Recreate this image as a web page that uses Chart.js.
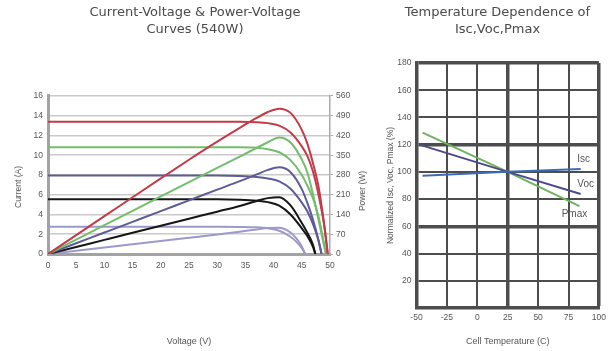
<!DOCTYPE html>
<html><head><meta charset="utf-8">
<script src="https://cdn.jsdelivr.net/npm/chart.js@4"></script>
<style>
html,body{margin:0;padding:0;background:#fff;width:611px;height:351px;overflow:hidden;}
#w1{position:absolute;left:0;top:0;width:375px;height:351px;}
#w2{position:absolute;left:385px;top:0;width:226px;height:351px;}
</style></head><body>
<div id="w1"><canvas id="c1"></canvas></div>
<div id="w2"><canvas id="c2"></canvas></div>
<script>
// ---------- Left chart data: I-V and P-V curves ----------
const ivTitle = ['Current-Voltage & Power-Voltage', 'Curves (540W)'];
const irradiance = ['1000 W/m²', '800 W/m²', '600 W/m²', '400 W/m²', '200 W/m²'];

const v1000 = [0,5,10,15,20,25,30,34,37,39,41,43,45,46,47,48,49,49.6];
const i1000 = [13.4,13.4,13.4,13.4,13.4,13.4,13.4,13.4,13.35,13.25,13.0,12.3,10.9,9.9,8.3,5.9,2.8,0];
const p1000 = [0,67,134,201,268,334,398,447,482,503,515,500,440,390,320,235,100,0];

const v800 = [0,5,10,15,20,25,30,34,37,39,41,43,45,46,47,48,49,49.3];
const i800 = [10.8,10.8,10.8,10.8,10.8,10.8,10.8,10.8,10.75,10.6,10.3,9.5,8.0,6.9,5.6,3.7,0.9,0];
const p800 = [0,51,102,153,204,255,305,345,376,396,413,395,335,288,210,118,25,0];

const v600 = [0,5,10,15,20,25,30,34,37,39,41,43,45,46,47,48,48.5];
const i600 = [7.95,7.95,7.95,7.95,7.95,7.95,7.95,7.9,7.8,7.65,7.35,6.6,5.2,4.3,3.0,1.3,0];
const p600 = [0,38,76,114,152,190,228,258,282,298,307,290,230,180,120,45,0];

const v400 = [0,5,10,15,20,25,30,34,37,39,41,43,45,46,47,47.4];
const i400 = [5.55,5.55,5.55,5.55,5.55,5.55,5.55,5.5,5.4,5.25,4.9,4.0,2.6,1.8,0.7,0];
const p400 = [0,25,50,75,100,125,150,170,188,198,201,172,110,75,32,0];

const v200 = [0,5,10,15,20,25,30,34,37,39,41,43,44,45,45.6];
const i200 = [2.75,2.75,2.75,2.75,2.75,2.75,2.75,2.74,2.7,2.6,2.35,1.75,1.25,0.6,0];
const p200 = [0,11.5,23,34.5,46,57.5,69,79,87,92,93,76,56,27,0];

const voltageTicks = [0,5,10,15,20,25,30,35,40,45,50];
const currentTicks = [0,2,4,6,8,10,12,14,16];
const powerTicks = [0,70,140,210,280,350,420,490,560];

// ---------- Right chart data: temperature dependence ----------
const tempTitle = ['Temperature Dependence of', 'Isc,Voc,Pmax'];
const tempNames = ['Isc', 'Voc', 'Pmax'];
const iscTemp = [-45, 25, 85];
const iscVal = [97.2, 100, 102.1];
const vocTemp = [-47, 25, 85];
const vocVal = [119.8, 100, 83.7];
const pmaxTemp = [-45, 25, 84];
const pmaxVal = [128.8, 100, 74.9];
const tempTicks = [-50,-25,0,25,50,75,100];
const normTicks = [0,20,40,60,80,100,120,140,160,180];

// ---------- helpers ----------
const pts = (xs, ys) => xs.map((x, k) => ({x: x, y: ys[k]}));
const TXT = '#555';
const tickFont = {family: 'Liberation Sans', size: 8.5};
const titleFont = {family: 'DejaVu Sans', size: 13, weight: 'normal', lineHeight: 1.36};

const colors = ['#c23b47', '#74bd6c', '#5d5b98', '#161616', '#9c99cb'];
const ivSets = [[v1000,i1000,p1000],[v800,i800,p800],[v600,i600,p600],[v400,i400,p400],[v200,i200,p200]];
const datasets1 = [];
ivSets.forEach((s, k) => {
  datasets1.push({label: 'I-V ' + irradiance[k], data: pts(s[0], s[1]), yAxisID: 'y',
    borderColor: colors[k], borderWidth: 2, pointRadius: 0, fill: false, cubicInterpolationMode: 'monotone'});
  datasets1.push({label: 'P-V ' + irradiance[k], data: pts(s[0], s[2]), yAxisID: 'y2',
    borderColor: colors[k], borderWidth: 2, pointRadius: 0, fill: false, cubicInterpolationMode: 'monotone'});
});

const leftLabels = {
  id: 'leftLabels',
  afterDraw(chart) {
    const ctx = chart.ctx, a = chart.chartArea;
    ctx.save();
    ctx.fillStyle = TXT;
    ctx.font = '8.5px "Liberation Sans"';
    ctx.textAlign = 'center'; ctx.textBaseline = 'middle';
    ctx.save(); ctx.translate(19, (a.top + a.bottom) / 2 + 12); ctx.rotate(-Math.PI / 2);
    ctx.fillText('Current (A)', 0, 0); ctx.restore();
    ctx.save(); ctx.translate(a.right + 33, (a.top + a.bottom) / 2 + 16); ctx.rotate(-Math.PI / 2);
    ctx.fillText('Power (W)', 0, 0); ctx.restore();
    ctx.restore();
  }
};

new Chart(document.getElementById('c1'), {
  type: 'line',
  data: {datasets: datasets1},
  plugins: [leftLabels],
  options: {
    responsive: true, maintainAspectRatio: false, animation: false, devicePixelRatio: 1,
    layout: {padding: {left: 15, right: 0, top: 0, bottom: 0}},
    plugins: {
      legend: {display: false}, tooltip: {enabled: false},
      title: {display: true, text: ivTitle, color: '#4a4a4a', font: titleFont, padding: {top: 3.5, bottom: 57.1}}
    },
    scales: {
      x: {type: 'linear', min: 0, max: 50,
        afterBuildTicks: s => { s.ticks = voltageTicks.map(v => ({value: v})); },
        ticks: {font: tickFont, color: TXT, padding: 7},
        grid: {display: false, drawTicks: false},
        border: {color: '#a3a3a3', width: 3},
        title: {display: true, text: 'Voltage (V)', color: TXT, font: {family: 'Liberation Sans', size: 9}, padding: {top: 0, bottom: 4}},
        afterFit: s => { s.height = 97; }
      },
      y: {position: 'left', min: 0, max: 16,
        afterBuildTicks: s => { s.ticks = currentTicks.map(v => ({value: v})); },
        ticks: {font: tickFont, color: TXT, padding: 5},
        grid: {color: '#c9c9c9', lineWidth: 1.5, drawTicks: false},
        border: {color: '#a3a3a3', width: 3},
        afterFit: s => { s.width = 33; }
      },
      y2: {position: 'right', min: 0, max: 560,
        afterBuildTicks: s => { s.ticks = powerTicks.map(v => ({value: v})); },
        ticks: {font: tickFont, color: TXT, padding: 3},
        grid: {drawOnChartArea: false, drawTicks: true, tickLength: 3, color: '#aaa'},
        border: {color: '#aaa', width: 1.5},
        afterFit: s => { s.width = 45; }
      }
    }
  }
});

// ---------- right chart ----------
const tColors = ['#3d6bb3', '#4b4a8e', '#6fb35f'];
const tSets = [[iscTemp, iscVal], [vocTemp, vocVal], [pmaxTemp, pmaxVal]];
const datasets2 = tSets.map((s, k) => ({label: tempNames[k], data: pts(s[0], s[1]),
  borderColor: tColors[k], borderWidth: 2, pointRadius: 0, fill: false, tension: 0}));
const labelOffsets = [[3, -10], [5, -10], [-5, 8]];

const rightLabels = {
  id: 'rightLabels',
  afterDraw(chart) {
    const ctx = chart.ctx, a = chart.chartArea;
    ctx.save();
    ctx.fillStyle = TXT;
    ctx.textAlign = 'center'; ctx.textBaseline = 'middle';
    ctx.font = '8.5px "Liberation Sans"';
    ctx.save(); ctx.translate(a.left - 26, (a.top + a.bottom) / 2); ctx.rotate(-Math.PI / 2);
    ctx.fillText('Normalized Isc, Voc, Pmax (%)', 0, 0); ctx.restore();
    ctx.font = '10px "Liberation Sans"';
    chart.data.datasets.forEach((ds, k) => {
      const meta = chart.getDatasetMeta(k);
      const last = meta.data[meta.data.length - 1];
      ctx.fillText(tempNames[k], last.x + labelOffsets[k][0], last.y + labelOffsets[k][1]);
    });
    ctx.restore();
  }
};

const thickX = [25, 100];
const thickY = [60, 120, 180];
new Chart(document.getElementById('c2'), {
  type: 'line',
  data: {datasets: datasets2},
  plugins: [rightLabels],
  options: {
    responsive: true, maintainAspectRatio: false, animation: false, devicePixelRatio: 1,
    layout: {padding: {left: 10, right: 11, top: 0, bottom: 0}},
    plugins: {
      legend: {display: false}, tooltip: {enabled: false},
      title: {display: true, text: tempTitle, color: '#4a4a4a', font: titleFont, padding: {top: 3.5, bottom: 24.1}}
    },
    scales: {
      x: {type: 'linear', min: -50, max: 100,
        afterBuildTicks: s => { s.ticks = tempTicks.map(v => ({value: v})); },
        ticks: {font: tickFont, color: TXT, padding: 5},
        grid: {color: '#4d4d4d', lineWidth: c => thickX.includes(c.tick && c.tick.value) ? 3.5 : 2, drawTicks: false},
        border: {color: '#4d4d4d', width: 3.5},
        title: {display: true, text: 'Cell Temperature (C)', color: TXT, font: {family: 'Liberation Sans', size: 9}, padding: {top: 0, bottom: 4}},
        afterFit: s => { s.height = 43; }
      },
      y: {min: 0, max: 180,
        afterBuildTicks: s => { s.ticks = normTicks.map(v => ({value: v})); },
        ticks: {font: tickFont, color: TXT, padding: 5, callback: v => v === 0 ? '' : String(v)},
        grid: {color: '#4d4d4d', lineWidth: c => thickY.includes(c.tick && c.tick.value) ? 3.5 : 2, drawTicks: false},
        border: {color: '#4d4d4d', width: 3.5},
        afterFit: s => { s.width = 21.5; }
      }
    }
  }
});
</script>
</body></html>
